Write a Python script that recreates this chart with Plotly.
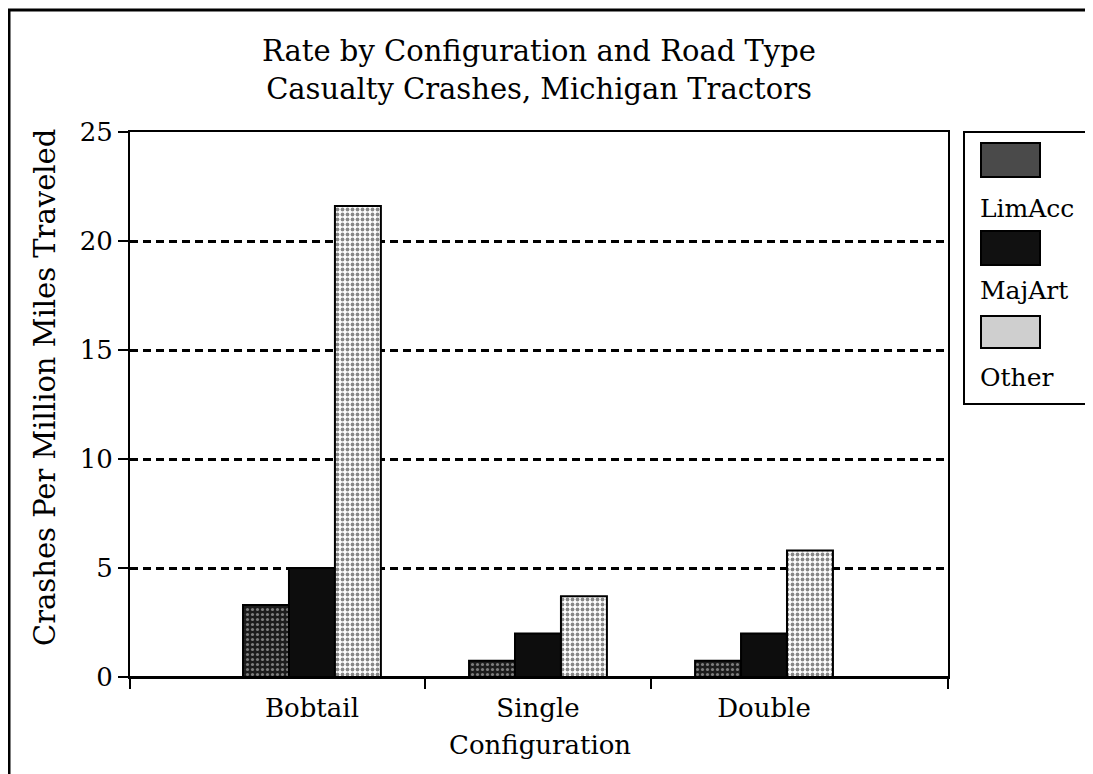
import plotly.graph_objects as go

categories = ["Bobtail", "Single", "Double"]
series_names = ["LimAcc", "MajArt", "Other"]
limacc = [3.3, 0.75, 0.75]
majart = [5.0, 2.0, 2.0]
other = [21.6, 3.7, 5.8]
y_ticks = [0, 5, 10, 15, 20, 25]

W, H = 1093, 774
OFF = 8  # page body margin offset
L, R, T, B = 130, 948, 132, 677  # plot area in (screen) pixels

def px(x):
    return (x - L) / (R - L)

def py(y):
    return (B - y) / (B - T)

FONT = "DejaVu Serif"
xpos = list(range(len(categories)))
x_lo, x_hi = -0.805, 2.814

fig = go.Figure()
styles = [
    dict(color="#1c1c1c", pattern=dict(shape=".", bgcolor="#1c1c1c", fgcolor="#e0e0e0", size=5, solidity=0.3)),
    dict(color="#0d0d0d"),
    dict(color="white", pattern=dict(shape=".", bgcolor="white", fgcolor="#111111", size=5, solidity=0.45)),
]
for name, vals, st in zip(series_names, [limacc, majart, other], styles):
    fig.add_trace(go.Bar(
        x=xpos, y=vals, name=name,
        marker=dict(line=dict(color="black", width=2), **st),
        showlegend=False,
    ))

fig.update_layout(
    width=W, height=H,
    margin=dict(l=L - OFF, r=W - (R - OFF), t=T - OFF, b=H - (B - OFF)),
    paper_bgcolor="white", plot_bgcolor="white",
    barmode="group", bargap=0.39, bargroupgap=0,
    font=dict(family=FONT, size=26, color="black"),
    title=dict(
        text="Rate by Configuration and Road Type<br>Casualty Crashes, Michigan Tractors",
        x=px(539), xref="paper", xanchor="center",
        y=1 - (61 - OFF) / H, yref="container", yanchor="middle",
        font=dict(family=FONT, size=29, color="black"),
    ),
)
fig.update_xaxes(
    range=[x_lo, x_hi],
    tickmode="array", tickvals=xpos, ticktext=categories,
    ticks="", showgrid=False, zeroline=False,
    showline=True, linecolor="black", linewidth=2, mirror=True,
    ticklabelstandoff=7,
    minor=dict(tickmode="array", tickvals=[x_lo, 0.5, 1.5, x_hi], ticks="outside",
               ticklen=10, tickwidth=2, tickcolor="black", showgrid=False),
)
fig.update_yaxes(
    range=[0, 25],
    tickmode="array", tickvals=y_ticks,
    ticks="outside", ticklen=10, tickwidth=2, tickcolor="black",
    showline=True, linecolor="black", linewidth=2, mirror=True,
    showgrid=True, gridcolor="black", gridwidth=2.5, griddash="8px,5px",
    zeroline=True, zerolinecolor="black", zerolinewidth=2,
    ticklabelstandoff=0,
)

annotations = [
    dict(text="Crashes Per Million Miles Traveled", x=px(45), y=py(388),
         xref="paper", yref="paper", textangle=-90, showarrow=False,
         xanchor="center", yanchor="middle", font=dict(size=29)),
    dict(text="Configuration", x=px(540), y=py(745), xref="paper", yref="paper",
         showarrow=False, xanchor="center", yanchor="middle", font=dict(size=26)),
]

shapes = [
    # outer border
    dict(type="rect", xref="paper", yref="paper", x0=px(9), y0=py(10), x1=px(1110), y1=py(800),
         line=dict(color="black", width=3), fillcolor="rgba(0,0,0,0)", layer="above"),
    # legend box
    dict(type="rect", xref="paper", yref="paper", x0=px(964), y0=py(132), x1=px(1110), y1=py(404),
         line=dict(color="black", width=2), fillcolor="white", layer="above"),
]
swatch_fill = ["#4a4a4a", "#111111", "#cfcfcf"]
swatch_y = [(143, 177), (231, 265), (316, 348)]
label_y = [209, 290, 377]
for name, fc, (y0, y1), ly in zip(series_names, swatch_fill, swatch_y, label_y):
    shapes.append(dict(type="rect", xref="paper", yref="paper", x0=px(981), x1=px(1040),
                       y0=py(y1), y1=py(y0), line=dict(color="black", width=2),
                       fillcolor=fc, layer="above"))
    annotations.append(dict(text=name, x=px(978), y=py(ly), xref="paper", yref="paper",
                            showarrow=False, xanchor="left", yanchor="middle",
                            font=dict(size=25)))

fig.update_layout(shapes=shapes, annotations=annotations)
fig.write_html("out.html")
